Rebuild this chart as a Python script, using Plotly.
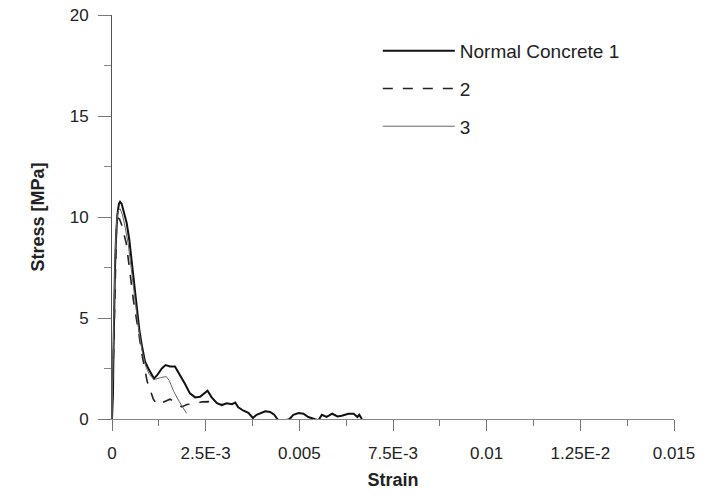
import plotly.graph_objects as go

# ---- data ----
strain_1 = [0, 2.7e-5, 3.6e-5, 5.3e-5, 8.0e-5, 1.07e-4, 1.42e-4, 1.85e-4, 2.15e-4, 2.58e-4,
            3.2e-4, 3.92e-4, 4.63e-4, 5.25e-4, 5.88e-4, 6.59e-4, 7.3e-4, 8.0e-4, 8.8e-4, 9.7e-4,
            1.05e-3, 1.12e-3, 1.21e-3, 1.33e-3, 1.43e-3, 1.55e-3, 1.68e-3, 1.82e-3, 1.95e-3, 2.08e-3,
            2.22e-3, 2.35e-3, 2.46e-3, 2.55e-3, 2.66e-3, 2.8e-3, 2.93e-3, 3.06e-3, 3.2e-3, 3.29e-3,
            3.37e-3, 3.51e-3, 3.64e-3, 3.76e-3, 3.86e-3, 4.0e-3, 4.09e-3, 4.22e-3, 4.33e-3, 4.44e-3,
            4.62e-3, 4.74e-3, 4.84e-3, 4.98e-3, 5.11e-3, 5.24e-3, 5.38e-3, 5.51e-3, 5.6e-3, 5.73e-3,
            5.88e-3, 6.02e-3, 6.13e-3, 6.31e-3, 6.45e-3, 6.55e-3, 6.6e-3, 6.67e-3]
stress_1 = [0, 1.3, 2.9, 5.4, 7.5, 9.0, 10.1, 10.65, 10.75, 10.65,
            10.25, 9.7, 8.85, 7.85, 6.7, 5.55, 4.4, 3.6, 2.85, 2.5,
            2.2, 2.0, 2.18, 2.5, 2.67, 2.6, 2.6, 2.18, 1.73, 1.27,
            1.07, 1.1, 1.27, 1.4, 1.07, 0.78, 0.69, 0.78, 0.73, 0.81,
            0.58, 0.41, 0.31, 0.05, 0.21, 0.30, 0.38, 0.35, 0.21, -0.07,
            -0.08, 0.0, 0.21, 0.30, 0.26, 0.10, 0.0, -0.07, 0.21, 0.1,
            0.26, 0.13, 0.16, 0.26, 0.26, 0.1, 0.21, 0.0]

strain_2 = [0, 3e-5, 5e-5, 8e-5, 1.2e-4, 1.6e-4, 2.0e-4, 2.6e-4, 3.2e-4, 3.8e-4,
            4.7e-4, 5.7e-4, 7.0e-4, 8.1e-4, 9.4e-4, 1.01e-3, 1.1e-3, 1.2e-3, 1.35e-3, 1.55e-3,
            1.72e-3, 1.86e-3, 2.0e-3, 2.17e-3, 2.4e-3, 2.57e-3, 2.62e-3]
stress_2 = [0, 2.5, 5.0, 7.6, 9.4, 9.95, 9.9, 9.6, 9.2, 8.7,
            7.4, 5.9, 4.4, 3.1, 1.85, 1.44, 1.0, 0.7, 0.81, 0.98,
            0.8, 0.6, 0.72, 0.74, 0.85, 0.86, 0.6]

strain_3 = [0, 3e-5, 5e-5, 8e-5, 1.2e-4, 1.7e-4, 2.2e-4, 2.8e-4, 3.5e-4, 4.3e-4,
            5.1e-4, 6.0e-4, 7.0e-4, 8.0e-4, 9.0e-4, 1.0e-3, 1.12e-3, 1.3e-3, 1.45e-3, 1.53e-3,
            1.65e-3, 1.8e-3, 1.99e-3]
stress_3 = [0, 2.8, 5.6, 8.0, 9.7, 10.35, 10.4, 10.1, 9.5, 8.7,
            7.5, 6.0, 4.6, 3.4, 2.6, 2.2, 1.95, 2.05, 2.1, 1.9,
            1.35, 0.85, 0.28]

series_names = ["Normal Concrete 1", "2", "3"]
x_tickvals = [0, 0.0025, 0.005, 0.0075, 0.01, 0.0125, 0.015]
x_ticktext = ["0", "2.5E-3", "0.005", "7.5E-3", "0.01", "1.25E-2", "0.015"]
y_tickvals = [0, 5, 10, 15, 20]

FONT = "Liberation Sans, Arial, Helvetica, sans-serif"

fig = go.Figure()
fig.add_trace(go.Scatter(x=strain_1, y=stress_1, mode="lines", name=series_names[0],
                         legendgroup="a", line=dict(color="#111111", width=2)))
fig.add_trace(go.Scatter(x=strain_2, y=stress_2, mode="lines", name=series_names[1],
                         legendgroup="b", line=dict(color="#222222", width=1.6, dash="10px,10px")))
fig.add_trace(go.Scatter(x=strain_3, y=stress_3, mode="lines", name=series_names[2],
                         legendgroup="c", line=dict(color="#666666", width=1)))

fig.update_layout(
    width=704, height=495,
    margin=dict(l=112, r=30, t=15, b=76),
    paper_bgcolor="white", plot_bgcolor="white",
    font=dict(family=FONT, color="#222222", size=17),
    showlegend=True,
    legend=dict(x=0.473, y=0.958, xanchor="left", yanchor="top",
                traceorder="grouped", tracegroupgap=10,
                font=dict(size=19, family=FONT, color="#222222"),
                itemwidth=72, bgcolor="rgba(0,0,0,0)"),
    xaxis=dict(range=[0, 0.015], showgrid=False, zeroline=False, automargin=False,
               showline=True, linecolor="#888888", linewidth=1,
               ticks="outside", ticklen=11, tickcolor="#777777", tickwidth=1,
               tickvals=x_tickvals, ticktext=x_ticktext,
               minor=dict(dtick=0.00125, tick0=0, ticks="outside", ticklen=6,
                          tickcolor="#777777", showgrid=False),
               tickfont=dict(size=17), ticklabelstandoff=8,
               title=dict(text="<b>Strain</b>", font=dict(size=18), standoff=10)),
    yaxis=dict(range=[0, 20], showgrid=False, zeroline=False, automargin=False,
               showline=True, linecolor="#555555", linewidth=1,
               ticks="outside", ticklen=13, tickcolor="#777777", tickwidth=1,
               tickvals=y_tickvals,
               minor=dict(dtick=2.5, tick0=0, ticks="outside", ticklen=7,
                          tickcolor="#888888", showgrid=False),
               tickfont=dict(size=17), ticklabelstandoff=6,
               title=dict(text="<b>Stress [MPa]</b>", font=dict(size=18), standoff=20)),
)

fig.write_html("out.html",
               config={"displayModeBar": False},
               post_script="document.body.style.margin='0';document.body.style.overflow='hidden';")
